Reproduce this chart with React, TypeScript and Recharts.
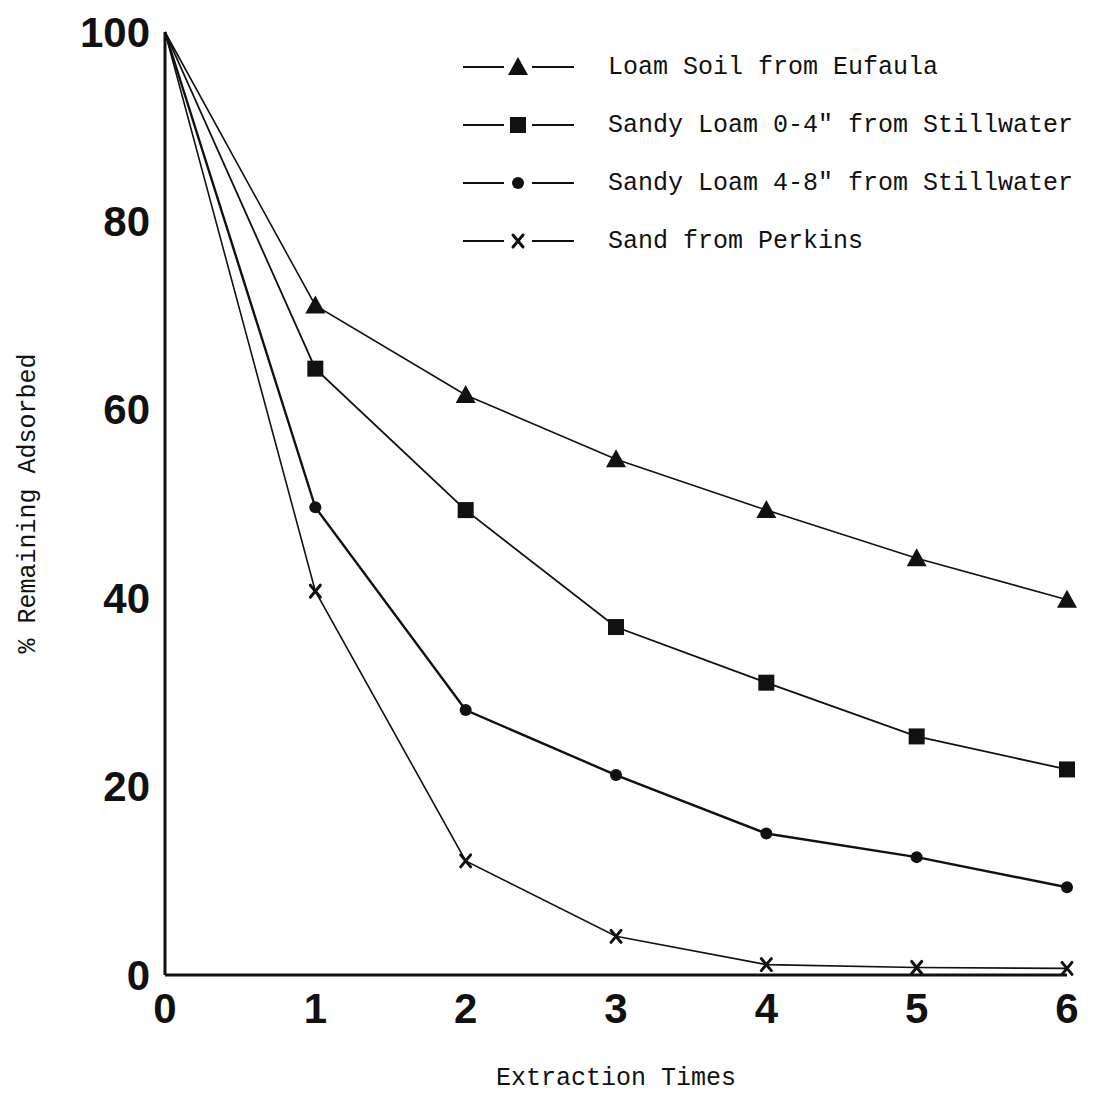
import { LineChart, Line, XAxis, YAxis, Legend } from "recharts";

const extractions = [0, 1, 2, 3, 4, 5, 6];
const loamEufaula = [100, 71, 61.5, 54.7, 49.3, 44.2, 39.8];
const sandyLoam04 = [100, 64.3, 49.3, 36.9, 31, 25.3, 21.8];
const sandyLoam48 = [100, 49.6, 28.1, 21.2, 15, 12.5, 9.3];
const sandPerkins = [100, 40.7, 12.1, 4.1, 1.1, 0.8, 0.7];
const yTicks = [0, 20, 40, 60, 80, 100];

const data = extractions.map((x, i) => ({
  x,
  loam: loamEufaula[i],
  sl04: sandyLoam04[i],
  sl48: sandyLoam48[i],
  sand: sandPerkins[i],
}));

const INK = "#111";
const TYPE = "'Liberation Mono', 'DejaVu Sans Mono', monospace";
const BOLD = "'Liberation Sans', Arial, sans-serif";

type Shape = "triangle" | "square" | "circle" | "cross";

const series: { key: string; name: string; shape: Shape; width: number }[] = [
  { key: "loam", name: "Loam Soil from Eufaula", shape: "triangle", width: 1.6 },
  { key: "sl04", name: "Sandy Loam 0-4\" from Stillwater", shape: "square", width: 1.8 },
  { key: "sl48", name: "Sandy Loam 4-8\" from Stillwater", shape: "circle", width: 2.4 },
  { key: "sand", name: "Sand from Perkins", shape: "cross", width: 1.6 },
];

function Marker({ shape, cx, cy }: { shape: Shape; cx: number; cy: number }) {
  if (shape === "triangle")
    return <polygon points={`${cx},${cy - 10} ${cx - 10},${cy + 8} ${cx + 10},${cy + 8}`} fill={INK} />;
  if (shape === "square")
    return <rect x={cx - 8} y={cy - 8} width={16} height={16} fill={INK} />;
  if (shape === "circle") return <circle cx={cx} cy={cy} r={6} fill={INK} />;
  return (
    <g stroke={INK} strokeWidth={3} strokeLinecap="round">
      <line x1={cx - 5} y1={cy - 6} x2={cx + 5} y2={cy + 6} />
      <line x1={cx + 5} y1={cy - 6} x2={cx - 5} y2={cy + 6} />
    </g>
  );
}

const makeDot = (shape: Shape) => (props: any) => {
  const { cx, cy, index } = props;
  if (index === 0 || cx == null || cy == null) return <g key={`d-${index}`} />;
  return (
    <g key={`d-${index}`}>
      <Marker shape={shape} cx={cx} cy={cy} />
    </g>
  );
};

function LegendBox() {
  return (
    <div style={{ fontFamily: TYPE, fontSize: 25, color: INK }}>
      {series.map((s) => (
        <div key={s.key} style={{ display: "flex", alignItems: "center", height: 58 }}>
          <svg width={120} height={30} style={{ marginRight: 30 }}>
            <line x1={5} y1={15} x2={46} y2={15} stroke={INK} strokeWidth={2} />
            <line x1={74} y1={15} x2={116} y2={15} stroke={INK} strokeWidth={2} />
            <Marker shape={s.shape} cx={60} cy={15} />
          </svg>
          <span style={{ whiteSpace: "pre" }}>{s.name}</span>
        </div>
      ))}
    </div>
  );
}

export default function App() {
  return (
    <div style={{ position: "absolute", top: 0, left: 0, background: "#fff" }}>
      <LineChart width={1104} height={1094} data={data} margin={{ top: 32, right: 37, bottom: 0, left: 0 }}>
        <XAxis
          dataKey="x"
          type="number"
          domain={[0, 6]}
          ticks={extractions}
          tickLine={false}
          axisLine={{ stroke: INK, strokeWidth: 3 }}
          tickMargin={12}
          height={119}
          tick={{ fill: INK, fontSize: 42, fontWeight: 700, fontFamily: BOLD }}
          label={{
            value: "Extraction Times",
            position: "insideBottom",
            offset: 9,
            style: { fontFamily: TYPE, fontSize: 25, fill: INK },
          }}
        />
        <YAxis
          type="number"
          domain={[0, 100]}
          ticks={yTicks}
          tickLine={false}
          axisLine={{ stroke: INK, strokeWidth: 3 }}
          tickMargin={9}
          width={165}
          tick={{ fill: INK, fontSize: 42, fontWeight: 700, fontFamily: BOLD }}
          label={{
            value: "% Remaining Adsorbed",
            angle: -90,
            position: "insideLeft",
            offset: 26,
            style: { fontFamily: TYPE, fontSize: 25, fill: INK, textAnchor: "middle" },
          }}
        />
        <Legend
          verticalAlign="middle"
          align="center"
          layout="vertical"
          content={() => <LegendBox />}
          wrapperStyle={{ top: 38, left: 458, width: 646 }}
        />
        {series.map((s) => (
          <Line
            key={s.key}
            dataKey={s.key}
            name={s.name}
            type="linear"
            stroke={INK}
            strokeWidth={s.width}
            dot={makeDot(s.shape)}
            activeDot={false}
            isAnimationActive={false}
          />
        ))}
      </LineChart>
    </div>
  );
}
